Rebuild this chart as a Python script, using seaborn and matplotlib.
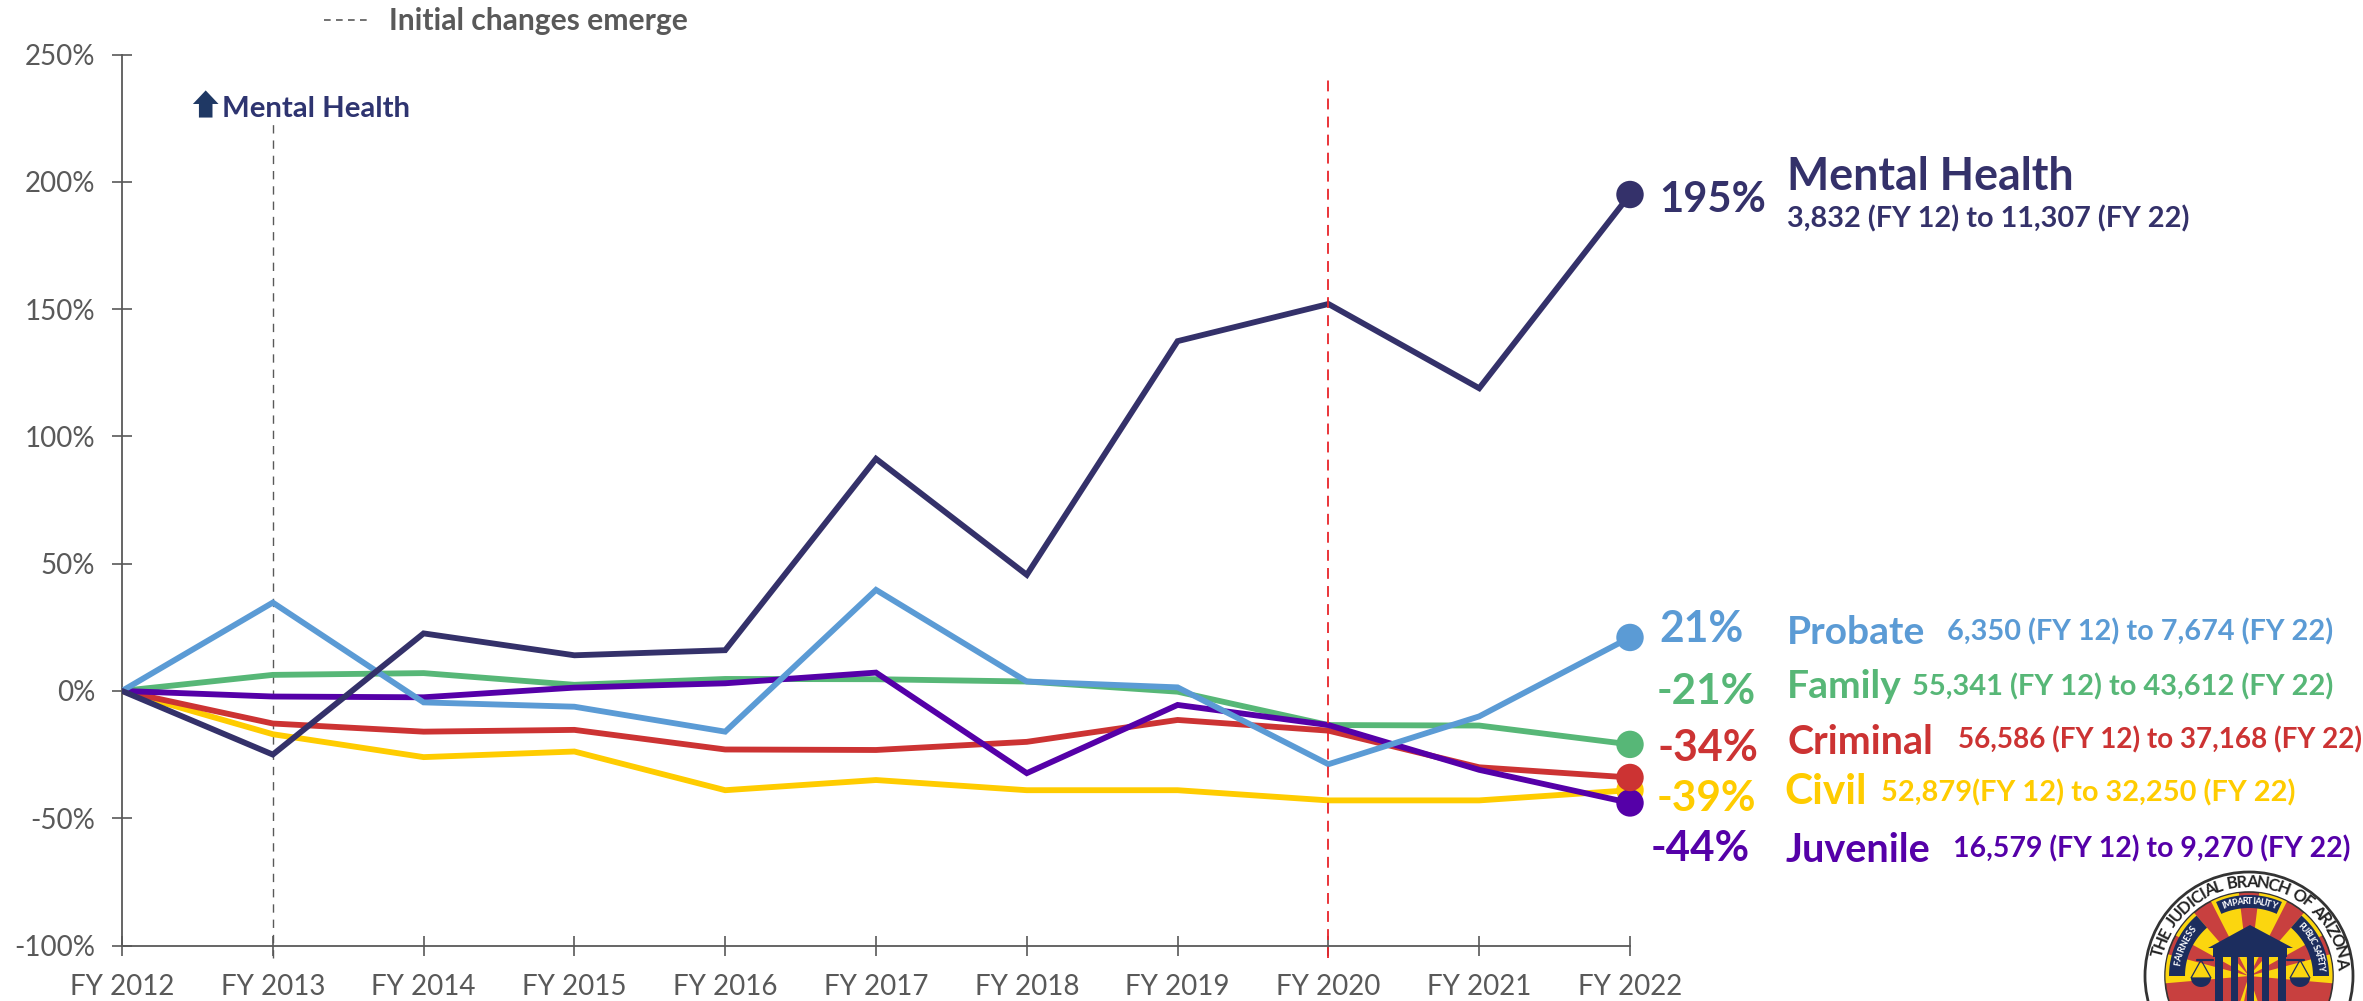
import numpy as np
import pandas as pd
import matplotlib
matplotlib.use("Agg")
import matplotlib.pyplot as plt
from matplotlib.patches import Circle, Polygon, Rectangle
import seaborn as sns

years = ["FY 2012","FY 2013","FY 2014","FY 2015","FY 2016","FY 2017","FY 2018","FY 2019","FY 2020","FY 2021","FY 2022"]
civil    = [0,-17,-26,-23.8,-39,-35,-39,-39,-43,-43,-39]
family   = [0,6.3,7,2.4,4.7,4.6,3.7,-0.3,-13.4,-13.6,-21]
criminal = [0,-12.8,-16,-15.3,-23,-23.2,-20,-11.4,-15.6,-30,-34]
juvenile = [0,-2.2,-2.5,1.3,3,7.2,-32.3,-5.5,-13.4,-31,-44]
probate  = [0,34.7,-4.5,-6.2,-16,39.7,3.7,1.4,-28.8,-10,21]
mental   = [0,-25,22.6,14,16,91.2,45.6,137.4,152,118.9,195]

names = ["Civil","Family","Criminal","Juvenile","Probate","Mental Health"]
series = [civil,family,criminal,juvenile,probate,mental]
colors = ["#FFCC00","#57B777","#CC3333","#5500A8","#5B9BD5","#34316A"]
y_ticks = [-100,-50,0,50,100,150,200,250]

pct_labels = {"Mental Health":"195%","Probate":"21%","Family":"-21%","Criminal":"-34%","Civil":"-39%","Juvenile":"-44%"}
sub_labels = {"Mental Health":"3,832 (FY 12) to 11,307 (FY 22)","Probate":"6,350 (FY 12) to 7,674 (FY 22)",
              "Family":"55,341 (FY 12) to 43,612 (FY 22)","Criminal":"56,586 (FY 12) to 37,168 (FY 22)",
              "Civil":"52,879(FY 12) to 32,250 (FY 22)","Juvenile":"16,579 (FY 12) to 9,270 (FY 22)"}
# label layout in reduced-view pixels: (x0, x1, yc)
pct_pos = {"Mental Health":(1101,1172,132.5),"Probate":(1101,1157,417.5),"Family":(1099,1165,459.5),
           "Criminal":(1100,1167,496.5),"Civil":(1099,1165,530.5),"Juvenile":(1095,1161,563.5)}
name_pos = {"Mental Health":(1186,1376,117.5),"Probate":(1186,1278,420),"Family":(1186,1262,455.5),
            "Criminal":(1186,1283,492.5),"Civil":(1184,1239,525.5),"Juvenile":(1185,1281,564.5)}
sub_pos = {"Mental Health":(1186,1453,145.5),"Probate":(1292,1548,419),"Family":(1269,1548,456),
           "Criminal":(1299,1568,491),"Civil":(1248,1522,526),"Juvenile":(1296,1560,563.5)}

W, H = 2363, 1001
GRAY = "#595959"
FONT = "Lato"

sns.set_theme(style="white")
plt.rcParams["font.family"] = [FONT, "DejaVu Sans"]

fig = plt.figure(figsize=(W/100, H/100), dpi=100, facecolor="white")
ax = fig.add_axes([122/W, 1-945.5/H, (1630-122)/W, (945.5-54.5)/H])

df = pd.DataFrame({"x": np.tile(np.arange(len(years)), len(names)),
                   "y": np.concatenate(series),
                   "s": np.repeat(names, len(years))})
pal = dict(zip(names, colors))
sns.lineplot(data=df, x="x", y="y", hue="s", hue_order=names, palette=pal, lw=4.2,
             legend=False, ax=ax, errorbar=None, sort=False, solid_joinstyle="miter", zorder=3)
ends = df[df.x == len(years)-1]
dot_order = ["Civil","Family","Juvenile","Criminal","Probate","Mental Health"]
ends = ends.set_index("s").loc[dot_order].reset_index()
sns.scatterplot(data=ends, x="x", y="y", hue="s", palette=pal, s=390, linewidth=0,
                legend=False, ax=ax, clip_on=False, zorder=4)

ax.set_xlim(0, len(years)-1)
ax.set_ylim(-100, 250)
ax.set_xticks(range(len(years)))
ax.set_xticklabels(years)
ax.set_yticks(y_ticks)
ax.set_yticklabels([f"{v}%" for v in y_ticks])
ax.set_xlabel("")
ax.set_ylabel("")
sns.despine(ax=ax)
for s in ("left","bottom"):
    ax.spines[s].set_color(GRAY)
    ax.spines[s].set_linewidth(1.3)
ax.tick_params(axis="both", direction="inout", length=14.5, width=1.2, color=GRAY,
               labelcolor=GRAY, labelsize=20, left=True, bottom=True)
ax.tick_params(axis="x", pad=13)
ax.tick_params(axis="y", pad=12)

ax.axvline(1, ymin=-0.014, ymax=(223+100)/350, color=GRAY, lw=1.0, ls=(0,(6,5)), clip_on=False, zorder=2)
ax.axvline(8, ymin=-0.014, ymax=(242+100)/350, color="#E8242A", lw=1.3, ls=(0,(6,4)), clip_on=False, zorder=5)

ov = fig.add_axes([0,0,1,1], facecolor="none")
ov.set_xlim(0, W); ov.set_ylim(H, 0); ov.axis("off")
R = fig.canvas.get_renderer()
K = 1.507

def fit(txt, x0, x1, yc, color, weight="bold"):
    x0, x1, yc = x0*K, x1*K, yc*K
    t = ov.text(x0, yc, txt, color=color, fontweight=weight, fontsize=20, ha="left", va="center", family=[FONT,"DejaVu Sans"])
    w = t.get_window_extent(R).width
    t.set_fontsize(20*(x1-x0)/w)
    return t

for n, c in zip(names, colors):
    fit(pct_labels[n], *pct_pos[n], c)
    fit(n, *name_pos[n], c)
    fit(sub_labels[n], *sub_pos[n], c)

# top key and callout
ov.plot([215*K, 246*K], [13*K, 13*K], color=GRAY, lw=1.2, ls=(0,(4,3.2)))
fit("Initial changes emerge", 258, 456, 14, GRAY)
fit("Mental Health", 147, 272, 72, "#2E3470")
ov.add_patch(Polygon([(136.5*K,60*K),(145*K,69*K),(141*K,69*K),(141*K,78*K),(132*K,78*K),(132*K,69*K),(128*K,69*K)],
                     fc="#1F3864", ec="none"))

# seal, bottom right
cx, cy = 2249, 976
NAVY = "#1C2D5E"; RED = "#C8403F"; YEL = "#FBD60F"; INK = "#222222"

def sector(r0, r1, a0, a1, **kw):
    aa = np.radians(np.linspace(a0, a1, 24))
    pts = [(cx+r1*np.cos(a), cy-r1*np.sin(a)) for a in aa] + [(cx+r0*np.cos(a), cy-r0*np.sin(a)) for a in aa[::-1]]
    ov.add_patch(Polygon(pts, ec="none", **kw))

def ring_text(txt, r, a0, a1, size, color, weight="bold", z=11):
    probes = [ov.text(0, 0, ch if ch != " " else "n", fontsize=size, fontweight=weight) for ch in txt]
    w = np.array([p.get_window_extent(R).width for p in probes])
    for p in probes:
        p.remove()
    w[[i for i, ch in enumerate(txt) if ch == " "]] *= 0.6
    mids = (np.cumsum(w) - w/2) / w.sum()
    for ch, m in zip(txt, mids):
        a = a0 + (a1-a0)*m
        rad = np.radians(a)
        rot = a-90 if a1 < a0 else a+90
        ov.text(cx+r*np.cos(rad), cy-r*np.sin(rad), ch, rotation=rot, ha="center", va="center",
                fontsize=size, fontweight=weight, color=color, zorder=z, rotation_mode="anchor")

ov.add_patch(Circle((cx,cy),104,fc="white",ec="#333333",lw=2.0,zorder=6))
ov.add_patch(Circle((cx,cy),84,fc=RED,ec="#333333",lw=1.2,zorder=6))
for mid in (5,39,73,107,141,175):
    sector(0, 83.5, mid-10, mid+10, fc=YEL, zorder=7)
for mid in (-75,-90,-105):
    sector(0, 40, mid-4, mid+4, fc=YEL, zorder=7)
ring_text("THE JUDICIAL BRANCH OF ARIZONA", 94, 168, 5, 12, INK)

# banners
sector(68, 81, 66, 114, fc=NAVY, zorder=9)
sector(64, 80, 131, 180, fc=NAVY, zorder=9)
sector(64, 80, 0, 49, fc=NAVY, zorder=9)
ring_text("IMPARTIALITY", 74.5, 111, 69, 6.5, "white", z=10)
ring_text("FAIRNESS", 72, 172, 138, 6.5, "white", z=10)
ring_text("PUBLIC SAFETY", 72, 46, 5, 6.2, "white", z=10)

# courthouse
ov.add_patch(Polygon([(2250,925),(2208,948),(2213,948),(2213,957),(2287,957),(2287,948),(2293,948)],fc=NAVY,ec="none",zorder=9))
for x0, x1 in ((2215,2223),(2231,2238),(2247,2254),(2262,2269),(2278,2286)):
    ov.add_patch(Rectangle((x0,957),x1-x0,50,fc=NAVY,ec="none",zorder=9))

# scales
for sx, bx in ((2201,2213),(2300,2287)):
    ov.plot([sx-4 if sx<2250 else sx+4, bx],[960,960],color=NAVY,lw=1.6,zorder=9)
    ov.add_patch(Polygon([(sx,960),(sx-10,978),(sx+10,978)],fc="none",ec=NAVY,lw=0.9,zorder=9))
    aa = np.radians(np.linspace(180,360,20))
    ov.add_patch(Polygon([(sx+10*np.cos(a), 978-9*np.sin(a)) for a in aa],fc=NAVY,ec="none",zorder=9))

fig.savefig("out.png", dpi=100)
